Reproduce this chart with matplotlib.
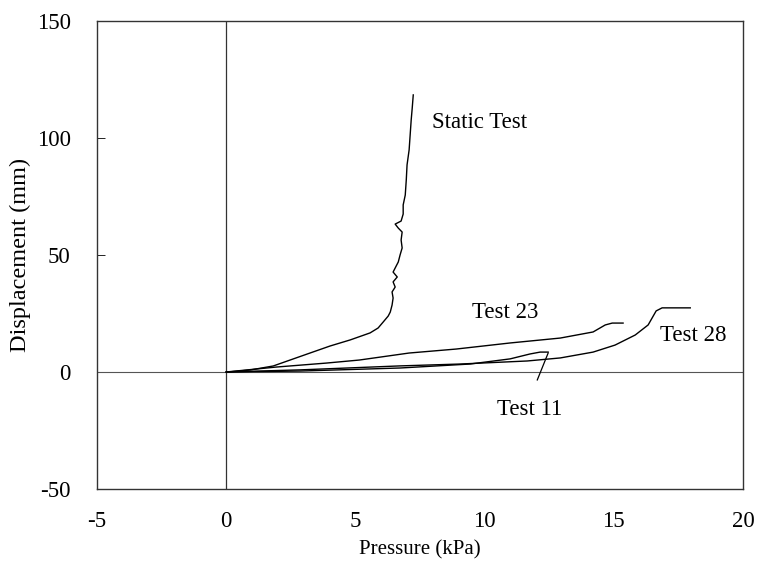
import matplotlib
matplotlib.use('Agg')
import matplotlib.pyplot as plt

# values
static_p = [0.08, 0.93, 1.82, 2.48, 3.25, 4.02, 4.80, 5.57, 5.88, 6.08, 6.27, 6.35,
            6.42, 6.46, 6.42, 6.54, 6.46, 6.62, 6.46, 6.58, 6.66, 6.73, 6.81, 6.77,
            6.81, 6.66, 6.54, 6.77, 6.85, 6.85, 6.93, 6.97, 7.00, 7.08, 7.12, 7.16,
            7.20, 7.24]
static_d = [0, 0.85, 2.56, 5.13, 8.12, 11.1, 13.7, 16.7, 18.8, 21.4, 23.9, 25.6,
            28.6, 31.6, 34.2, 36.3, 38.5, 40.6, 42.7, 45.3, 47.0, 50.0, 53.0, 56.4,
            59.8, 61.5, 63.2, 64.5, 67.5, 71.4, 75.6, 82.1, 88.5, 94.9, 101.3, 107.7,
            112.8, 118.4]

t23_p = [0, 1.93, 3.87, 5.15, 7.08, 8.9, 10.99, 12.93, 14.2, 14.67, 14.94, 15.36]
t23_d = [0, 2.1, 3.8, 5.1, 8.1, 9.8, 12.4, 14.5, 17.1, 20.1, 20.9, 20.9]

t28_p = [0, 2.86, 6.73, 9.06, 11.65, 12.93, 14.2, 15.05, 15.83, 16.33, 16.64, 16.87, 17.96]
t28_d = [0, 0.9, 2.6, 3.4, 4.7, 6.0, 8.5, 11.5, 15.8, 20.1, 26.1, 27.4, 27.4]

t11_p = [0, 2.86, 6.73, 9.44, 10.99, 11.76, 12.15, 12.46]
t11_d = [0, 0.4, 1.7, 3.4, 5.6, 7.7, 8.5, 8.5]

plt.rcParams['font.family'] = ['Liberation Serif', 'DejaVu Serif']
plt.rcParams['font.size'] = 16.5
plt.rcParams['axes.unicode_minus'] = False

fig = plt.figure(figsize=(7.6, 5.67), dpi=100)
ax = fig.add_axes([0.1276, 0.1376, 0.85, 0.8254])

ax.axhline(0, color='#555555', lw=0.8)
ax.axvline(0, color='#333333', lw=0.9)

ax.plot(static_p, static_d, color='black', lw=1.0)
ax.plot(t23_p, t23_d, color='black', lw=1.0)
ax.plot(t28_p, t28_d, color='black', lw=1.0)
ax.plot(t11_p, t11_d, color='black', lw=1.0)
ax.plot([12.46, 12.04], [8.1, -3.4], color='black', lw=0.9)

ax.text(7.97, 106.8, 'Static Test', ha='left', va='center')
ax.text(10.8, 25.6, 'Test 23', ha='center', va='center')
ax.text(18.07, 15.8, 'Test 28', ha='center', va='center')
ax.text(11.76, -16.2, 'Test 11', ha='center', va='center')

ax.set_xlim(-5, 20)
ax.set_ylim(-50, 150)
ax.set_xticks([-5, 0, 5, 10, 15, 20])
ax.set_yticks([-50, 0, 50, 100, 150])
ax.tick_params(axis='y', direction='in', length=6, width=0.6, pad=19)
ax.tick_params(axis='x', length=0, pad=16)
for s in ax.spines.values():
    s.set_linewidth(1.0)
    s.set_color('#333333')

ax.set_xlabel('Pressure (kPa)', fontsize=15, va='center')
ax.set_ylabel('Displacement (mm)', fontsize=17.5, va='center')
ax.xaxis.set_label_coords(0.5, -0.13)
ax.yaxis.set_label_coords(-0.119, 0.5)

fig.savefig('out.png', dpi=100)
